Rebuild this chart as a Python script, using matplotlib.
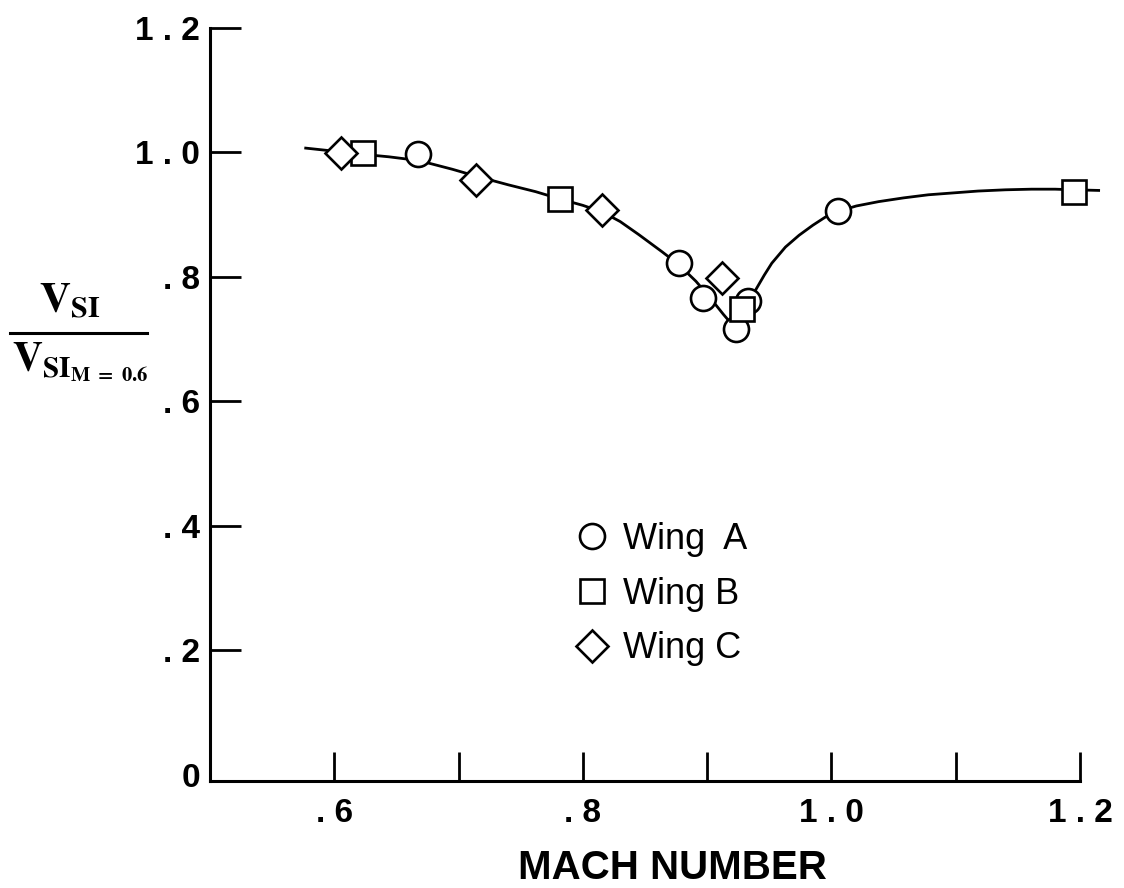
import numpy as np
import matplotlib
matplotlib.use('Agg')
import matplotlib.pyplot as plt
from matplotlib.lines import Line2D

plt.rcParams['font.family'] = ['Liberation Sans', 'DejaVu Sans']
plt.rcParams['mathtext.fontset'] = 'stix'

# measured points
wing_a_mach = [0.667, 0.877, 0.897, 0.923, 0.933, 1.005]
wing_a_ratio = [0.998, 0.822, 0.766, 0.716, 0.762, 0.906]
wing_b_mach = [0.623, 0.782, 0.928, 1.195]
wing_b_ratio = [0.999, 0.925, 0.748, 0.936]
wing_c_mach = [0.605, 0.714, 0.815, 0.912]
wing_c_ratio = [0.999, 0.956, 0.907, 0.798]

# faired curve
curve_mach = [0.577, 0.605, 0.623, 0.644, 0.668, 0.695, 0.714, 0.740, 0.762, 0.782,
              0.800, 0.816, 0.830, 0.845, 0.864, 0.877, 0.891, 0.903, 0.913, 0.919,
              0.923, 0.927, 0.933, 0.939, 0.946, 0.952, 0.963, 0.974, 0.985, 0.995,
              1.005, 1.020, 1.038, 1.058, 1.078, 1.098, 1.118, 1.140, 1.161, 1.180,
              1.195, 1.215]
curve_ratio = [1.007, 1.001, 0.997, 0.993, 0.987, 0.973, 0.962, 0.948, 0.937, 0.925,
               0.915, 0.904, 0.889, 0.868, 0.840, 0.820, 0.793, 0.765, 0.740, 0.726,
               0.720, 0.728, 0.752, 0.779, 0.803, 0.822, 0.848, 0.867, 0.883, 0.896,
               0.905, 0.914, 0.921, 0.927, 0.932, 0.935, 0.938, 0.940, 0.941, 0.941,
               0.940, 0.939]

xticks = [0.6, 0.7, 0.8, 0.9, 1.0, 1.1, 1.2]
xticklabels = ['. 6', '', '. 8', '', '1 . 0', '', '1 . 2']
yticks = [0, 0.2, 0.4, 0.6, 0.8, 1.0, 1.2]
yticklabels = ['0', '. 2', '. 4', '. 6', '. 8', '1 . 0', '1 . 2']

fig = plt.figure(figsize=(11.24, 8.88), dpi=100)
ax = fig.add_axes([210 / 1124, 1 - 781 / 888, 870 / 1124, 753 / 888])

ax.plot(curve_mach, curve_ratio, color='black', lw=2.0, zorder=2, clip_on=False)
mk = dict(color='black', mfc='white', mec='black', mew=1.9, ls='none', zorder=3,
          clip_on=False)
ax.plot(wing_a_mach, wing_a_ratio, marker='o', ms=18, label='Wing  A', **mk)
ax.plot(wing_b_mach, wing_b_ratio, marker='s', ms=17, label='Wing B', **mk)
ax.plot(wing_c_mach, wing_c_ratio, marker='D', ms=16, label='Wing C', **mk)

ax.set_xlim(0.5, 1.2)
ax.set_ylim(-0.01, 1.2)
ax.spines['top'].set_visible(False)
ax.spines['right'].set_visible(False)
ax.spines['left'].set_linewidth(2.2)
ax.spines['bottom'].set_linewidth(2.2)

ax.set_xticks(xticks)
ax.set_xticklabels(xticklabels, fontsize=24, fontweight='bold')
ax.set_yticks(yticks)
ax.set_yticklabels(yticklabels, fontsize=24, fontweight='bold')
ax.tick_params(axis='x', direction='in', length=21, width=2.0, pad=12)
ax.tick_params(axis='y', direction='in', length=22, width=2.0, pad=7)
ax.yaxis.get_major_ticks()[0].tick1line.set_visible(False)

fig.text(672 / 1124, 1 - 868 / 888, 'MACH NUMBER', fontsize=29, fontweight='bold',
         ha='center', va='center')

# y label drawn as a fraction
fig.text(70 / 1124, 1 - 302 / 888, r'$\mathbf{V_{SI}}$', fontsize=31,
         ha='center', va='center')
fig.add_artist(Line2D([10 / 1124, 147 / 1124], [1 - 333 / 888, 1 - 333 / 888],
                      color='black', lw=2.2, transform=fig.transFigure))
fig.text(12 / 1124, 1 - 362 / 888, r'$\mathbf{V_{SI_{M\ =\ 0.6}}}$', fontsize=30,
         ha='left', va='center')

ax.legend(loc='center left', bbox_to_anchor=(574 / 1124, 1 - 594 / 888),
          bbox_transform=fig.transFigure, frameon=False, fontsize=26,
          handlelength=1.0, handletextpad=0.35, labelspacing=0.55,
          borderpad=0, borderaxespad=0)

fig.savefig('out.png', dpi=100)
